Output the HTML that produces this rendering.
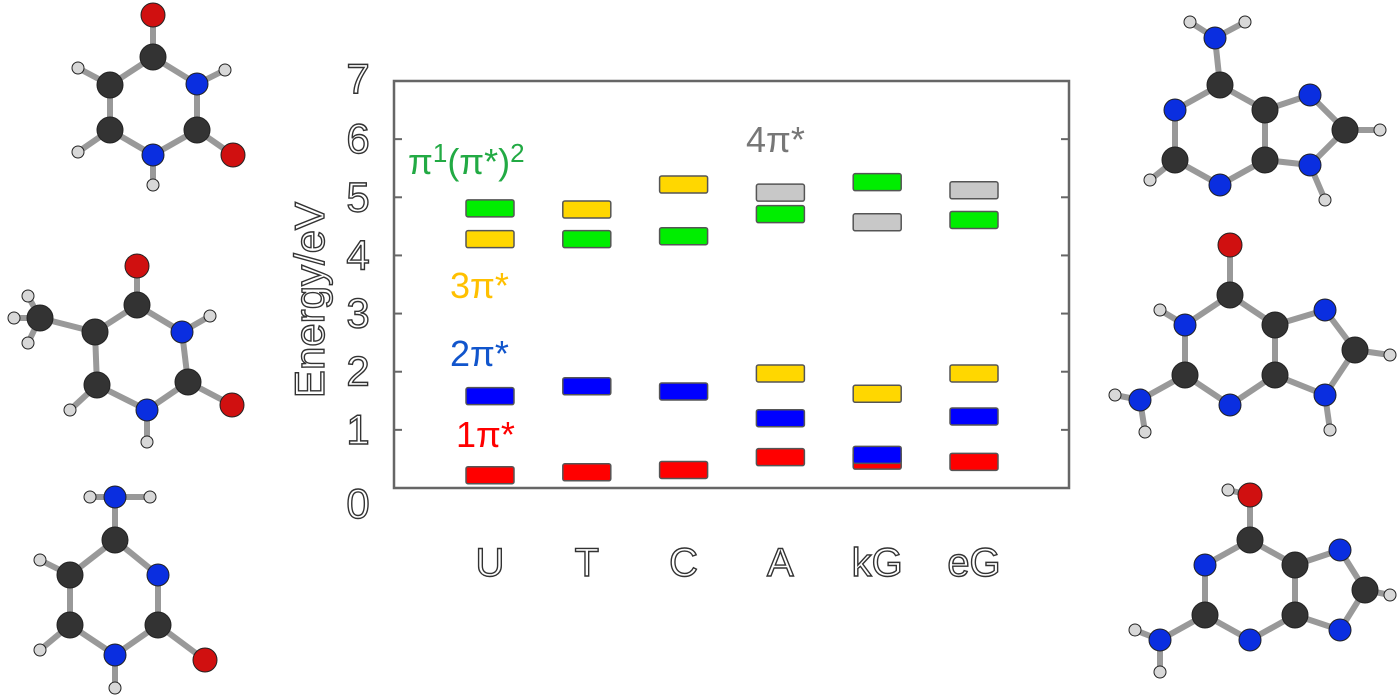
<!DOCTYPE html>
<html><head><meta charset="utf-8"><style>
html,body{margin:0;padding:0;background:#fff;}
svg{display:block;font-family:"Liberation Sans",sans-serif;}
</style></head><body>
<svg id="s" width="1400" height="700" viewBox="0 0 1400 700">
<g id="mols"></g>
<g id="chart"></g>
</svg>
<script>
const categories=["U","T","C","A","kG","eG"];
const red1=[0.22,0.27,0.31,0.53,0.47,0.45];
const blue2=[1.58,1.75,1.66,1.20,0.57,1.23];
const yellow3=[4.28,4.79,5.22,1.97,1.62,1.97];
const green=[4.81,4.28,4.33,4.71,5.26,4.61];
const gray4=[null,null,null,5.08,4.57,5.12];
const yTicks=[0,1,2,3,4,5,6,7];

const NS="http://www.w3.org/2000/svg";
function mk(t,a,p){const e=document.createElementNS(NS,t);for(const k in a)e.setAttribute(k,a[k]);p.appendChild(e);return e;}
const chart=document.getElementById('chart');
const L=394,R=1069,T=81,B=488;
const y=v=>B-(v/7)*(B-T);
const x=i=>490+i*96.8;
const frame=mk('rect',{x:L,y:T,width:R-L,height:B-T,fill:'none',stroke:'#666','stroke-width':2.5},chart);

yTicks.forEach(v=>{
  if(v>0&&v<7){
    const t1=mk('line',{x1:L,x2:L+8,y1:y(v),y2:y(v),stroke:'#666','stroke-width':2},chart);
    
    const t2=mk('line',{x1:R-8,x2:R,y1:y(v),y2:y(v),stroke:'#666','stroke-width':2},chart);
    
  }
  const lab=mk('text',{x:358,y:y(v)+(v==0?30:v==7?12:14),'font-size':42,'text-anchor':'middle',fill:'#fff',stroke:'#333','stroke-width':1.4},chart);
  lab.textContent=v;
  
});
const yt=mk('text',{x:0,y:0,'font-size':42,'text-anchor':'middle',fill:'#fff',stroke:'#333','stroke-width':1.4,transform:'translate(324,300) rotate(-90)'},chart);
yt.textContent='Energy/eV';
categories.forEach((c,i)=>{
  const t=mk('text',{x:x(i),y:576,'font-size':40,'text-anchor':'middle',fill:'#fff',stroke:'#333','stroke-width':1.4},chart);
  t.textContent=c;
});
function bars(arr,fill,name){
  arr.forEach((v,i)=>{
    if(v==null)return;
    const r=mk('rect',{x:x(i)-24,y:y(v)-8.5,width:48,height:17,rx:2,fill:fill,stroke:'#555','stroke-width':1.5},chart);
    
  });
}
bars(red1,'#ff0000','bar-1pi');
bars(blue2,'#0000ff','bar-2pi');
bars(yellow3,'#ffd700','bar-3pi');
bars(green,'#00ee00','bar-pi1pi2');
bars(gray4,'#c8c8c8','bar-4pi');
function lbl(txt,xx,yy,col,name){const t=mk('text',{x:xx,y:yy,'font-size':36,fill:col},chart);t.innerHTML=txt;}
lbl('π<tspan font-size="26" dy="-12">1</tspan><tspan dy="12">(π*)</tspan><tspan font-size="26" dy="-12">2</tspan>',408,174,'#22aa44','label-pi1pi2');
lbl('3π*',450,298,'#ffc000','label-3pi');
lbl('2π*',450,366,'#1155cc','label-2pi');
lbl('1π*',456,447,'#ff0000','label-1pi');
lbl('4π*',746,152,'#777','label-4pi');

// molecules
const mols=document.getElementById('mols');
const COL={C:'#333',N:'#0a2ee0',O:'#d01010',H:'#d8d8d8'};
const RAD={C:13,N:11,O:12,H:6};
function mol(atoms,bonds,name){
  const g=mk('g',{},mols);
  bonds.forEach(([a,b])=>mk('line',{x1:atoms[a][1],y1:atoms[a][2],x2:atoms[b][1],y2:atoms[b][2],stroke:'#999','stroke-width':6},g));
  atoms.forEach(([t,ax,ay])=>mk('circle',{cx:ax,cy:ay,r:RAD[t],fill:COL[t],stroke:'#222','stroke-width':1},g));
}
mol([['O',153,15],['C',153,57],['N',197,84],['H',225,70],['C',197,130],['O',233,155],['N',153,155],['H',153,185],['C',110,130],['H',78,152],['C',110,85],['H',78,68]],
[[0,1],[1,2],[2,3],[2,4],[4,5],[4,6],[6,7],[6,8],[8,9],[8,10],[10,1],[10,11]],'uracil-molecule');
mol([['O',137,266],['C',137,305],['N',182,332],['H',210,316],['C',188,382],['O',232,405],['N',147,410],['H',147,442],['C',97,385],['H',70,410],['C',95,332],['C',40,318],['H',14,318],['H',28,343],['H',28,296]],
[[0,1],[1,2],[2,3],[2,4],[4,5],[4,6],[6,7],[6,8],[8,9],[8,10],[10,1],[10,11],[11,12],[11,13],[11,14]],'thymine-molecule');
mol([['N',115,497],['H',90,497],['H',150,497],['C',115,540],['N',158,575],['C',158,625],['O',205,660],['N',115,655],['H',115,688],['C',70,625],['H',40,650],['C',70,575],['H',40,560]],
[[0,1],[0,2],[0,3],[3,4],[4,5],[5,6],[5,7],[7,8],[7,9],[9,10],[9,11],[11,3],[11,12]],'cytosine-molecule');
mol([['N',1215,38],['H',1190,22],['H',1245,22],['C',1220,85],['N',1175,110],['C',1175,160],['H',1150,180],['N',1220,185],['C',1265,160],['C',1265,110],['N',1310,95],['C',1345,130],['H',1380,130],['N',1310,165],['H',1325,200]],
[[0,1],[0,2],[0,3],[3,4],[4,5],[5,6],[5,7],[7,8],[8,9],[9,3],[9,10],[10,11],[11,12],[11,13],[13,8],[13,14]],'adenine-molecule');
mol([['O',1230,245],['C',1230,295],['N',1185,325],['H',1160,310],['C',1185,375],['N',1140,400],['H',1115,395],['H',1145,432],['N',1230,405],['C',1275,375],['C',1275,325],['N',1325,310],['C',1355,350],['H',1390,355],['N',1325,395],['H',1330,430]],
[[0,1],[1,2],[2,3],[2,4],[4,5],[5,6],[5,7],[4,8],[8,9],[9,10],[10,1],[10,11],[11,12],[12,13],[12,14],[14,9],[14,15]],'keto-guanine-molecule');
mol([['O',1250,495],['H',1228,490],['C',1250,540],['N',1205,565],['C',1205,615],['N',1160,640],['H',1135,630],['H',1160,672],['N',1250,640],['C',1295,615],['C',1295,565],['N',1340,550],['C',1365,590],['H',1390,595],['N',1340,630]],
[[0,1],[0,2],[2,3],[3,4],[4,5],[5,6],[5,7],[4,8],[8,9],[9,10],[10,2],[10,11],[11,12],[12,13],[12,14],[14,9]],'enol-guanine-molecule');
</script>
</body></html>
